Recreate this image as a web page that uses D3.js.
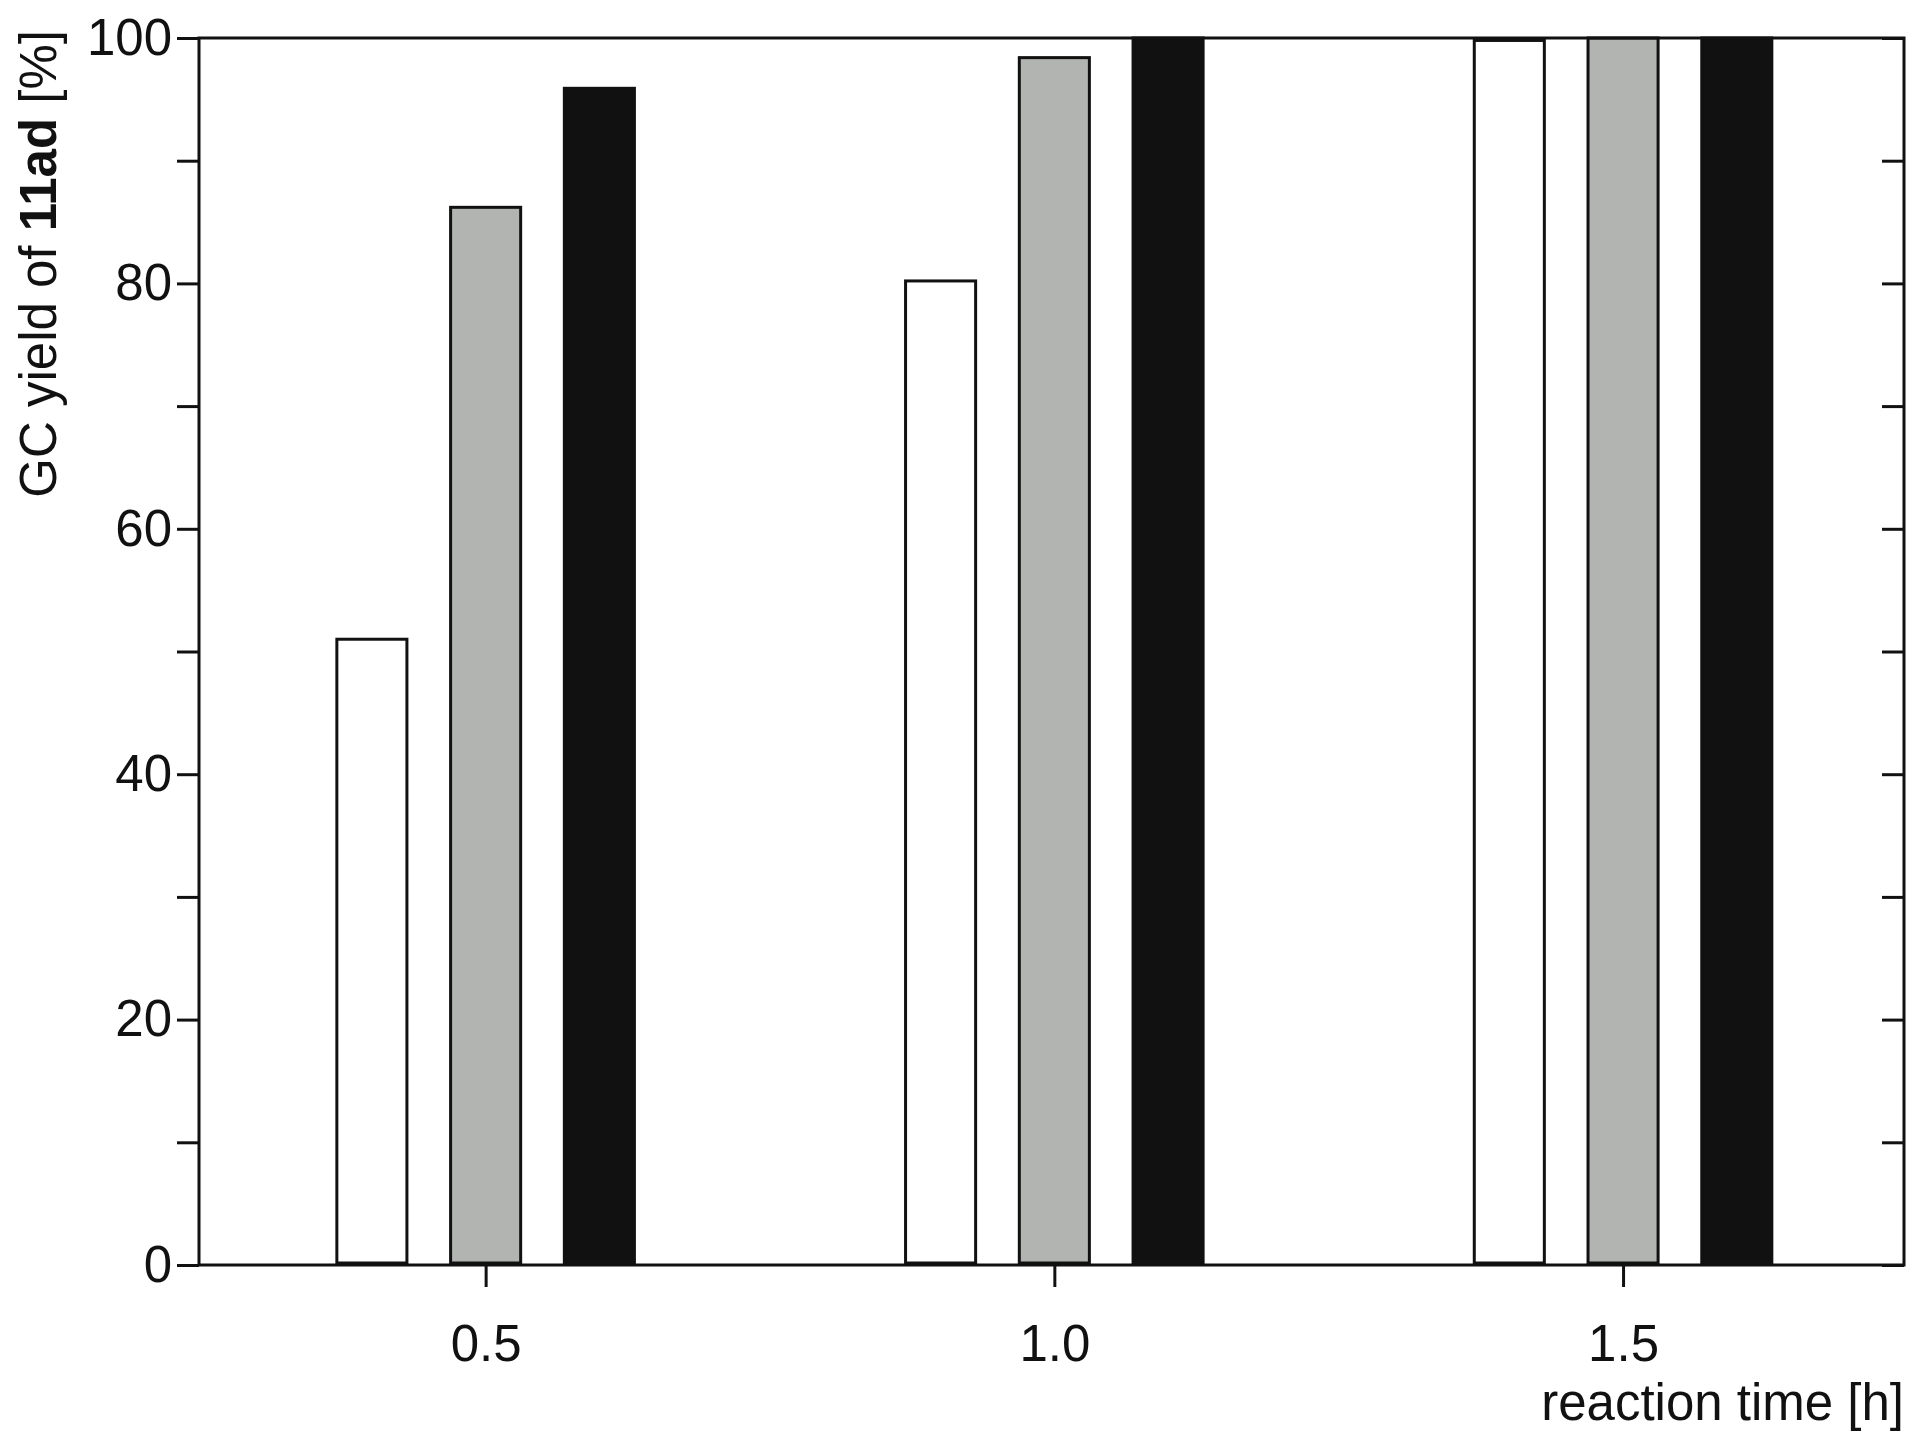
<!DOCTYPE html><html><head><meta charset="utf-8">
<script src="https://cdn.jsdelivr.net/npm/d3@7"></script>
<style>body{margin:0;background:#fff}text{font-family:"Liberation Sans",Arial,sans-serif;fill:#111}</style></head><body>
<svg id="c" width="1926" height="1452"></svg>
<script>
const times=[0.5,1.0,1.5];
const seriesWhite=[51.0,80.2,99.8];
const seriesGray=[86.2,98.4,100];
const seriesBlack=[95.9,100,100];
const yTicks=[0,20,40,60,80,100];
const series=[{v:seriesWhite,fill:"#ffffff",off:-0.1},{v:seriesGray,fill:"#b2b4b1",off:0},{v:seriesBlack,fill:"#111111",off:0.1}];
const L=199,R=1904,T=38,B=1265;
const svg=d3.select("#c");
const x=d3.scaleLinear().domain([0.248,1.747]).range([L,R]);
const y=d3.scaleLinear().domain([0,100]).range([B,T]);
const bw=x(0.0616)-x(0);
series.forEach(s=>{
 svg.selectAll(null).data(times).enter().append("rect")
  .attr("x",(d)=>x(d+s.off)-bw/2).attr("width",bw)
  .attr("y",(d,i)=>y(s.v[i])).attr("height",(d,i)=>y(0)-y(s.v[i])-2)
  .attr("fill",s.fill).attr("stroke","#111").attr("stroke-width",3);
});
svg.append("rect").attr("x",L).attr("y",T).attr("width",R-L).attr("height",B-T).attr("fill","none").attr("stroke","#111").attr("stroke-width",3);
const fs="51px";
const yl=svg.append("g").attr("transform",`translate(${L},0)`).call(d3.axisLeft(y).tickValues(d3.range(0,101,10)).tickSize(22).tickFormat(d=>yTicks.includes(d)?d:""));
const yr=svg.append("g").attr("transform",`translate(${R},0)`).call(d3.axisLeft(y).tickValues(d3.range(0,101,10)).tickSize(22).tickFormat(""));
const xa=svg.append("g").attr("transform",`translate(0,${B})`).call(d3.axisBottom(x).tickValues(times).tickSize(22).tickFormat(d3.format(".1f")));
[yl,yr,xa].forEach(g=>{g.select(".domain").remove();g.selectAll("line").attr("stroke","#111").attr("stroke-width",3);g.selectAll("text").style("font-size",fs).attr("fill","#111");});
yl.selectAll("text").attr("dx","-2");
xa.selectAll("text").attr("dy","1.4em");
svg.append("text").attr("x",R).attr("y",1420).attr("text-anchor","end").style("font-size",fs).text("reaction time [h]");
const t=svg.append("text").attr("transform",`translate(56,${T-8}) rotate(-90)`).attr("text-anchor","end").style("font-size",fs);
t.append("tspan").text("GC yield of ");t.append("tspan").attr("font-weight","bold").text("11ad");t.append("tspan").text(" [%]");
</script></body></html>
